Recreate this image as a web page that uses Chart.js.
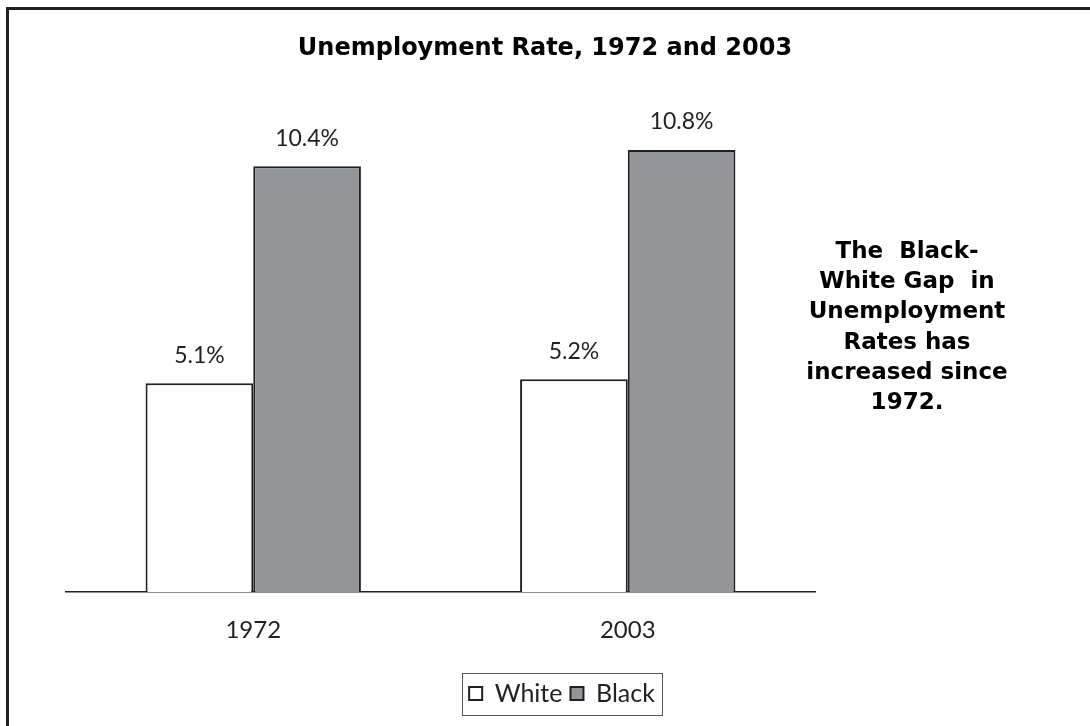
<!DOCTYPE html>
<html>
<head>
<meta charset="utf-8">
<script src="https://cdn.jsdelivr.net/npm/chart.js@4/dist/chart.umd.min.js"></script>
<style>
  html, body { margin: 0; padding: 0; background: #ffffff; }
  #wrap { position: relative; width: 1090px; height: 726px; overflow: hidden; }
  #frame { position: absolute; left: 6px; top: 7px; width: 1200px; height: 800px;
           border-left: 3px solid #231f20; border-top: 3px solid #231f20; box-sizing: border-box; }
  canvas { position: absolute; left: 0; top: 0; }
</style>
</head>
<body>
<div id="wrap">
  <div id="frame"></div>
  <canvas id="c" width="1090" height="726"></canvas>
</div>
<script>
const categories = ['1972', '2003'];
const whiteValues = [5.1, 5.2];
const blackValues = [10.4, 10.8];
const seriesNames = ['White', 'Black'];
const titleText = 'Unemployment Rate, 1972 and 2003';
const noteLines = ['The  Black-', 'White Gap  in', 'Unemployment', 'Rates has', 'increased since', '1972.'];

const FONT = 'Lato, "Open Sans", sans-serif';
const BOLDFONT = '"DejaVu Sans", Lato, sans-serif';
const INK = '#231f20';

const extras = {
  id: 'extras',
  afterLayout(chart) {
    const lg = chart.legend;
    if (lg) { lg.left += 17; lg.right += 17; }
  },
  afterDatasetsDraw(chart) {
    const ctx = chart.ctx;
    ctx.save();
    ctx.fillStyle = INK;
    ctx.font = '23px ' + FONT;
    ctx.textAlign = 'center';
    ctx.textBaseline = 'middle';
    chart.data.datasets.forEach((ds, di) => {
      const meta = chart.getDatasetMeta(di);
      meta.data.forEach((bar, i) => {
        ctx.fillText(ds.data[i].toFixed(1) + '%', bar.x, bar.y - 28);
      });
    });
    ctx.restore();
  },
  afterDraw(chart) {
    const ctx = chart.ctx;
    ctx.save();
    ctx.fillStyle = '#000';
    ctx.font = 'bold 23px ' + BOLDFONT;
    ctx.textAlign = 'center';
    ctx.textBaseline = 'middle';
    noteLines.forEach((t, i) => ctx.fillText(t, 907, 252 + i * 30.2));
    const lg = chart.legend;
    if (lg && lg.legendHitBoxes && lg.legendHitBoxes.length) {
      const hb = lg.legendHitBoxes;
      const l = Math.min(...hb.map(h => h.left)) - 7;
      const r = Math.max(...hb.map(h => h.left + h.width)) + 7;
      ctx.strokeStyle = '#555';
      ctx.lineWidth = 1;
      ctx.strokeRect(Math.round(l) + 0.5, Math.round(lg.top) + 0.5, Math.round(r - l), Math.round(lg.bottom - lg.top) - 1);
    }
    ctx.restore();
  }
};

new Chart(document.getElementById('c'), {
  type: 'bar',
  data: {
    labels: categories,
    datasets: [
      { label: seriesNames[0], data: whiteValues, backgroundColor: '#ffffff', borderColor: INK, borderWidth: 2, yAxisID: 'y' },
      { label: seriesNames[1], data: blackValues, backgroundColor: '#939598', borderColor: INK, borderWidth: 2, yAxisID: 'y' }
    ]
  },
  options: {
    responsive: false,
    animation: false,
    devicePixelRatio: 1,
    layout: { padding: { top: 8, left: 0, right: 0, bottom: 10 } },
    datasets: { bar: { barPercentage: 1, categoryPercentage: 0.575 } },
    plugins: {
      title: {
        display: true,
        text: titleText,
        color: '#000',
        font: { family: BOLDFONT, size: 24, weight: 'bold' },
        padding: { top: 26, bottom: 38 }
      },
      legend: {
        display: true,
        position: 'bottom',
        labels: {
          color: INK,
          font: { family: FONT, size: 25 },
          boxWidth: 13,
          boxHeight: 13,
          padding: 8
        }
      },
      tooltip: { enabled: false }
    },
    scales: {
      x: {
        grid: { display: false, drawTicks: false },
        border: { display: true, color: INK, width: 1.5 },
        ticks: { color: INK, font: { family: FONT, size: 24 }, padding: 24 },
        afterFit(s) { s.height = 81; }
      },
      y: {
        position: 'left',
        min: 0, max: 12,
        grid: { display: false, drawTicks: false },
        border: { display: false },
        ticks: { display: false },
        afterFit(s) { s.width = 66; }
      },
      y2: {
        position: 'right',
        min: 0, max: 12,
        grid: { display: false, drawTicks: false },
        border: { display: false },
        ticks: { display: false },
        afterFit(s) { s.width = 275; }
      }
    }
  },
  plugins: [extras]
});
</script>
</body>
</html>
